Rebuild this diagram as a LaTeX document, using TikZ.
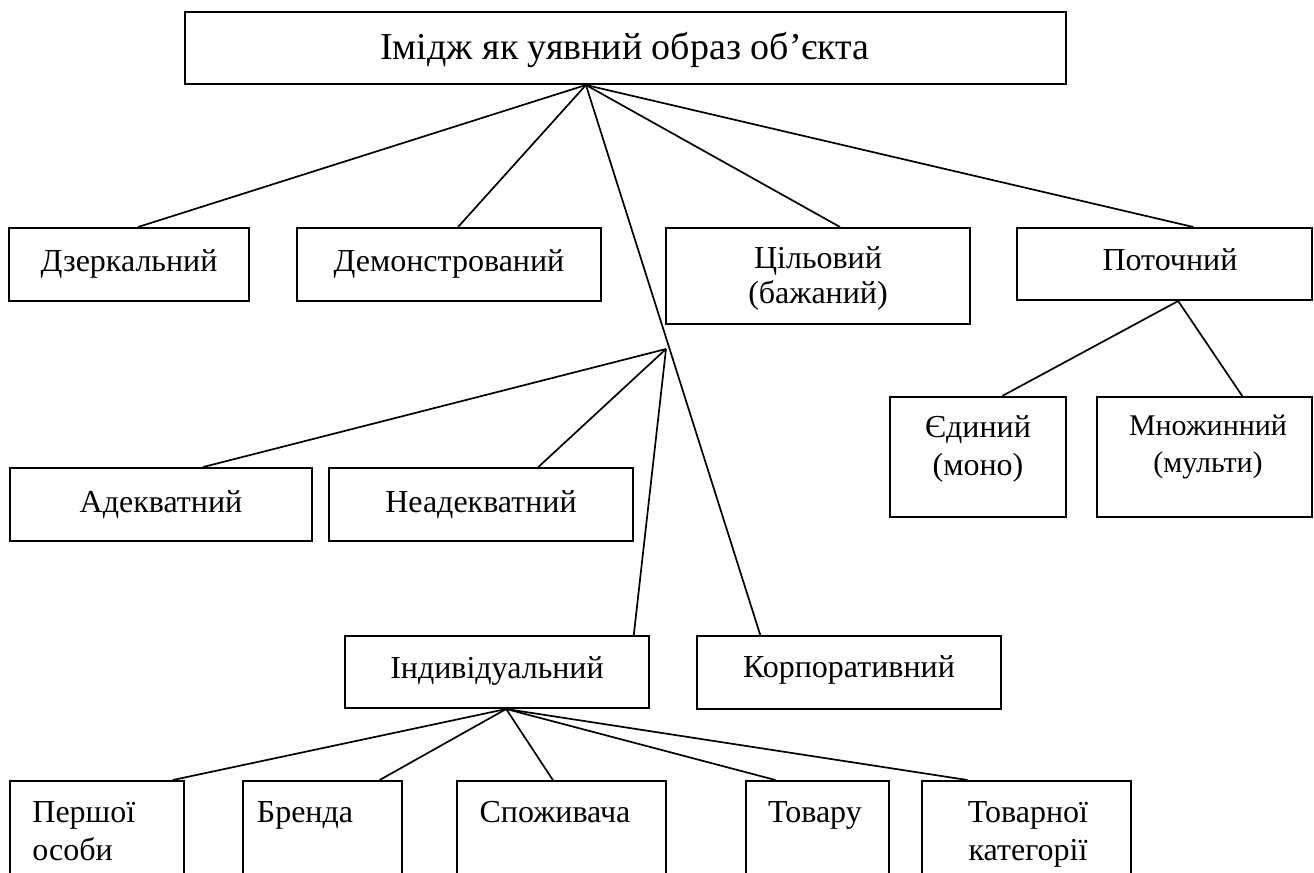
\documentclass[tikz,border=0pt]{standalone}
\usepackage{fontspec}
\setmainfont{Liberation Serif}
\usetikzlibrary{fit,calc}
\begin{document}
\begin{tikzpicture}[x=0.5pt,y=-0.5pt,
  box/.style={draw, line width=1pt, rectangle, inner sep=0pt},
  con/.style={line width=0.85pt},
  lbl/.style={font=\fontsize{16}{18.5}\selectfont, inner sep=0pt, anchor=base},
  lbls/.style={font=\fontsize{15}{17}\selectfont, inner sep=0pt, anchor=base},
  toplbl/.style={font=\fontsize{19}{22}\selectfont, inner sep=0pt, anchor=base}]
\useasboundingbox (0,0) rectangle (1314,873);
\clip (0,0) rectangle (1314,873);

% boxes
\node[box, fit={(185,12) (1066,84)}] (top) {};
\node[box, fit={(9,228) (249,301)}] (dz) {};
\node[box, fit={(297,228) (601,301)}] (dem) {};
\node[box, fit={(666,228) (970,324)}] (cil) {};
\node[box, fit={(1017,228) (1312,300)}] (pot) {};
\node[box, fit={(10,468) (312,541)}] (ad) {};
\node[box, fit={(329,468) (633,541)}] (nead) {};
\node[box, fit={(890,397) (1066,517)}] (yed) {};
\node[box, fit={(1097,397) (1312,517)}] (mn) {};
\node[box, fit={(345,636) (649,708)}] (ind) {};
\node[box, fit={(697,636) (1001,709)}] (korp) {};
\node[box, fit={(10,781) (184,905)}] (persh) {};
\node[box, fit={(243,781) (402,905)}] (brend) {};
\node[box, fit={(457,781) (666,905)}] (spoz) {};
\node[box, fit={(746,781) (889,905)}] (tov) {};
\node[box, fit={(922,781) (1131,905)}] (tovkat) {};

% texts
\node[toplbl] (ttop) at (625,59) {Імідж як уявний образ об’єкта};
\node[lbl] (tdz) at (129,271) {Дзеркальний};
\node[lbl] (tdem) at (449,271) {Демонстрований};
\node[lbl] (tcil1) at (818,268) {Цільовий};
\node[lbl] (tcil2) at (818,303) {(бажаний)};
\node[lbl] (tpot) at (1170,270) {Поточний};
\node[lbl] (tad) at (161,512) {Адекватний};
\node[lbl] (tnead) at (481,512) {Неадекватний};
\node[lbl] (tyed1) at (978,437) {Єдиний};
\node[lbl] (tyed2) at (978,475) {(моно)};
\node[lbls] (tmn1) at (1208,435) {Множинний};
\node[lbls] (tmn2) at (1208,472) {(мульти)};
\node[lbl] (tind) at (497,678) {Індивідуальний};
\node[lbl] (tkorp) at (849,677) {Корпоративний};
\node[lbl, anchor=base west] (tpersh1) at (32,822) {Першої};
\node[lbl, anchor=base west] (tpersh2) at (32,860) {особи};
\node[lbl] (tbrend) at (305,822) {Бренда};
\node[lbl] (tspoz) at (555,822) {Споживача};
\node[lbl] (ttov) at (815,822) {Товару};
\node[lbl] (ttk1) at (1028,822) {Товарної};
\node[lbl] (ttk2) at (1028,860) {категорії};

% connection points
\coordinate (apex) at ($(top.south west)!0.4552!(top.south east)$);
\coordinate (junc) at (666,349);
\coordinate (potb) at ($(pot.south west)!0.546!(pot.south east)$);
\coordinate (indb) at ($(ind.south west)!0.530!(ind.south east)$);

% connectors
\draw[con] (apex) -- ($(dz.north west)!0.5375!(dz.north east)$);
\draw[con] (apex) -- ($(dem.north west)!0.5296!(dem.north east)$);
\draw[con] (apex) -- ($(cil.north west)!0.572!(cil.north east)$);
\draw[con] (apex) -- ($(pot.north west)!0.597!(pot.north east)$);
\draw[con] (apex) -- ($(korp.north west)!0.21!(korp.north east)$);
\draw[con] (junc) -- ($(ad.north west)!0.639!(ad.north east)$);
\draw[con] (junc) -- ($(nead.north west)!0.6875!(nead.north east)$);
\draw[con] (junc) -- ($(ind.north west)!0.947!(ind.north east)$);
\draw[con] (potb) -- ($(yed.north west)!0.636!(yed.north east)$);
\draw[con] (potb) -- ($(mn.north west)!0.674!(mn.north east)$);
\draw[con] (indb) -- ($(persh.north west)!0.931!(persh.north east)$);
\draw[con] (indb) -- ($(brend.north west)!0.855!(brend.north east)$);
\draw[con] (indb) -- ($(spoz.north west)!0.459!(spoz.north east)$);
\draw[con] (indb) -- ($(tov.north west)!0.21!(tov.north east)$);
\draw[con] (indb) -- ($(tovkat.north west)!0.22!(tovkat.north east)$);
\end{tikzpicture}
\end{document}
